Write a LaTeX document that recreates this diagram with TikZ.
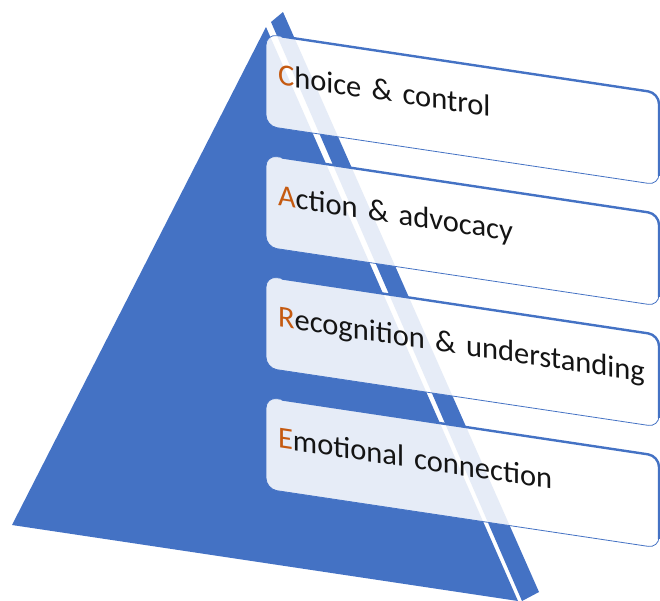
\documentclass[tikz,border=0pt]{standalone}
\usepackage{fontspec}
\setmainfont{Carlito}
\usetikzlibrary{calc}
\definecolor{pyrblue}{HTML}{4472C4}
\definecolor{initial}{HTML}{C55A11}
\definecolor{ink}{HTML}{141414}
\newcommand{\capletter}[1]{\textcolor{initial}{#1}}
\newcommand{\layerfont}{\fontsize{30.5}{36}\selectfont\spaceskip=0.15em\relax}
\tikzset{ layer/.style = { rectangle % one level of the pyramid
, rounded corners = 11pt
, draw = pyrblue
, line width = 0.8pt
, fill = white
, fill opacity = 0.87
, text opacity = 1
, minimum width = 393pt
, minimum height = 92pt
, text width = 369pt
, inner xsep = 12pt
, outer sep = 0pt
, align = left
, text = ink
, text depth = 15pt
, font = \layerfont
, yslant = -0.15
}
, rim/.style = { draw = pyrblue % top and right edge
, line width = 2.4pt
, rounded corners = 11pt
}
}

\begin{document}
\begin{tikzpicture}[x=1pt, y=-1pt]
        \useasboundingbox (0,0) rectangle (660,600);
        % pyramid: front face and thin side face
        \fill [pyrblue] (266,27) -- (12,525) -- (518,601) -- cycle;
        \fill [pyrblue] (271,22) -- (283,12) -- (539,592) -- (522,601) -- cycle;

        \node [layer] (choice)  at (462.5,109.5) {\mbox{\capletter{C}hoice \& control}};
        \node [layer] (action)  at (462.5,230.5) {\mbox{\capletter{A}ction \& advocacy}};
        \node [layer] (recog)   at (462.5,351.5) {\mbox{\capletter{R}ecognition \& understanding}};
        \node [layer] (emotion) at (462.5,472.5) {\mbox{\capletter{E}motional connection}};

        \foreach \n in {choice,action,recog,emotion}
            \draw [rim] ($(\n.north west)!0.04!(\n.north east)$) -- (\n.north east) -- ($(\n.north east)!0.9!(\n.south east)$);
\end{tikzpicture}
\end{document}
